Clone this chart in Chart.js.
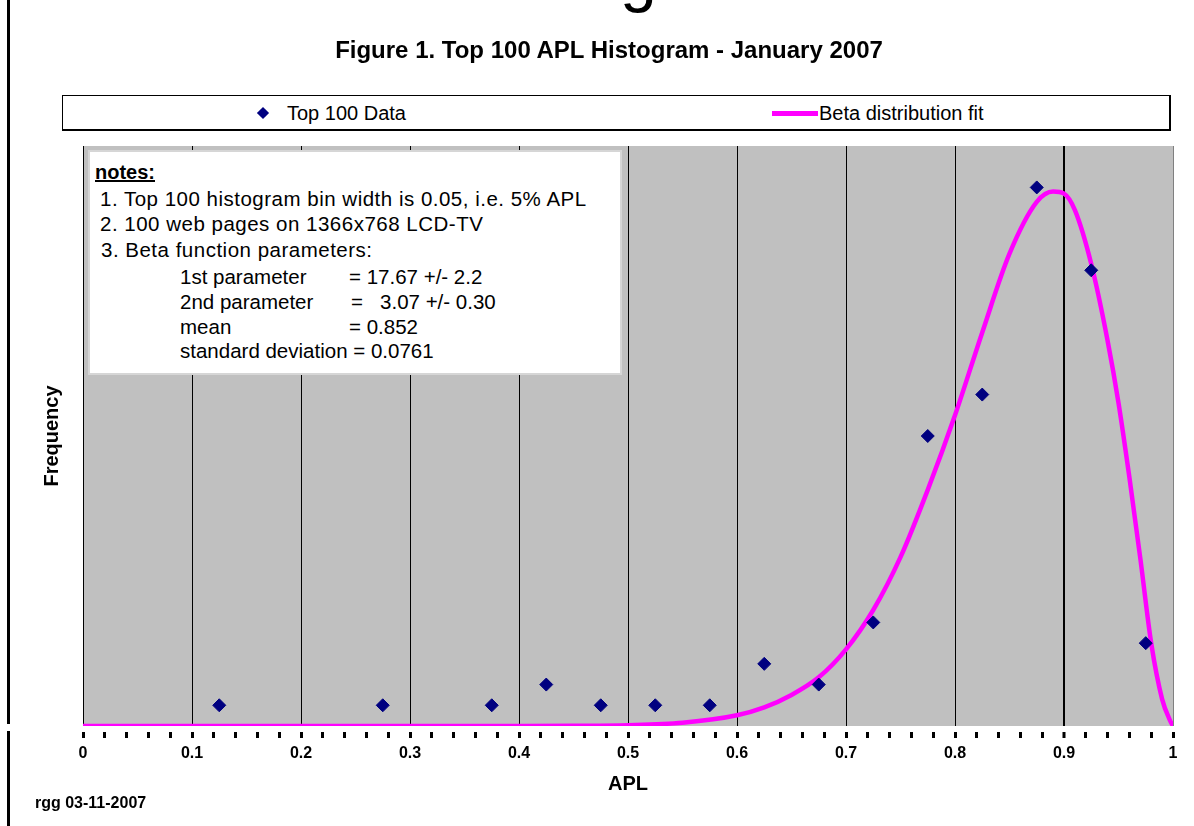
<!DOCTYPE html>
<html>
<head>
<meta charset="utf-8">
<title>Figure 1. Top 100 APL Histogram - January 2007</title>
<script src="https://cdn.jsdelivr.net/npm/chart.js@4.4.1/dist/chart.umd.min.js"></script>
<style>
  html, body { margin: 0; padding: 0; background: #fff; }
  body { width: 1194px; height: 826px; position: relative; overflow: hidden;
         font-family: "Liberation Sans", Arial, sans-serif; color: #000; }
  #chart { position: absolute; left: 0; top: 0; }
  .abs { position: absolute; white-space: pre; line-height: 24px; }
  .notes { font-size: 20.5px; }
  .wide { letter-spacing: 0.5px; }
</style>
</head>
<body>
<canvas id="chart" width="1194" height="826"></canvas>

<!-- bits of the page around the chart -->
<div class="abs" style="left:620px; top:-57px; font-size:66px; line-height:66px;">g</div>
<div style="position:absolute; left:7px; top:0; width:3px; height:724px; background:#000;"></div>
<div style="position:absolute; left:7px; top:731px; width:3px; height:95px; background:#000;"></div>

<div class="abs" style="left:300px; width:618px; top:38px; text-align:center; font-size:24px; font-weight:bold;">Figure 1. Top 100 APL Histogram - January 2007</div>

<!-- legend -->
<div style="position:absolute; left:62px; top:95px; width:1106px; height:33px; border:1px solid #000; border-right-width:2px; border-bottom-width:2px; background:#fff;"></div>
<div style="position:absolute; left:257px; top:107px; width:12px; height:12px; background:#000080; transform:rotate(45deg) scale(0.72, 0.72);"></div>
<div class="abs" style="left:287px; top:101px; font-size:20px;">Top 100 Data</div>
<div style="position:absolute; left:772px; top:111px; width:46px; height:5px; background:#ff00ff;"></div>
<div class="abs" style="left:819px; top:101px; font-size:20px;">Beta distribution fit</div>

<!-- notes box -->
<div style="position:absolute; left:88px; top:150px; width:530px; height:221px; background:#fff; border:2px solid #d6d6d6;"></div>
<div class="abs" style="left:95px; top:160px; font-size:20px; font-weight:bold; text-decoration:underline;">notes:</div>
<div class="abs notes wide" style="left:100px; top:187px;">1. Top 100 histogram bin width is 0.05, i.e. 5% APL</div>
<div class="abs notes wide" style="left:100px; top:212px;">2. 100 web pages on 1366x768 LCD-TV</div>
<div class="abs notes wide" style="left:101px; top:238px;">3. Beta function parameters:</div>
<div class="abs notes" style="left:180px; top:265px;">1st parameter</div>
<div class="abs notes" style="left:349px; top:265px;">= 17.67 +/- 2.2</div>
<div class="abs notes" style="left:180px; top:290px;">2nd parameter</div>
<div class="abs notes" style="left:351px; top:290px;">=   3.07 +/- 0.30</div>
<div class="abs notes" style="left:180px; top:315px;">mean</div>
<div class="abs notes" style="left:349px; top:315px;">= 0.852</div>
<div class="abs notes" style="left:180px; top:339px;">standard deviation = 0.0761</div>

<div class="abs" style="left:35px; top:791px; font-size:16px; font-weight:bold;">rgg 03-11-2007</div>

<script>
// histogram bins that have entries (centres) and their counts, 100 pages in all
const binCenters = [0.125, 0.275, 0.375, 0.425, 0.475, 0.525, 0.575, 0.625, 0.675, 0.725, 0.775, 0.825, 0.875, 0.925, 0.975];
const binCounts  = [1, 1, 1, 2, 1, 1, 1, 3, 2, 5, 14, 16, 26, 22, 4];

// beta distribution fit
const fitX = [0, 0.1, 0.2, 0.3, 0.4, 0.45, 0.5, 0.55, 0.6, 0.625, 0.65, 0.675, 0.7, 0.725, 0.75, 0.775, 0.8, 0.825, 0.85, 0.875, 0.89, 0.9, 0.91, 0.925, 0.94, 0.95, 0.96, 0.97, 0.98, 0.99, 0.997, 1];
const fitY = [0, 0, 0, 0, 0, 0.01, 0.04, 0.16, 0.52, 0.9, 1.5, 2.35, 3.7, 5.6, 8.15, 11.4, 15.0, 19.0, 22.8, 25.3, 25.8, 25.7, 24.9, 22.3, 18.6, 15.6, 12.0, 8.1, 4.0, 1.3, 0.3, 0];

const xTickLabels = ['0', '0.1', '0.2', '0.3', '0.4', '0.5', '0.6', '0.7', '0.8', '0.9', '1'];

const FONT = '"Liberation Sans", Arial, sans-serif';

// grey plot area like the spreadsheet chart
const plotBackground = {
  id: 'plotBackground',
  beforeDraw(chart) {
    const { ctx, chartArea } = chart;
    ctx.save();
    ctx.fillStyle = '#c0c0c0';
    ctx.fillRect(chartArea.left, chartArea.top, chartArea.right - chartArea.left, chartArea.bottom - chartArea.top);
    ctx.restore();
  }
};

const hundredths = v => Math.round(v * 100);

new Chart(document.getElementById('chart'), {
  type: 'scatter',
  data: {
    datasets: [
      {
        label: 'Top 100 Data',
        data: binCenters.map((x, i) => ({ x: x, y: binCounts[i] })),
        pointStyle: 'rectRot',
        pointRadius: 6.5,
        pointHoverRadius: 6.5,
        backgroundColor: '#000080',
        borderColor: '#000080',
        borderWidth: 1,
        order: 0
      },
      {
        label: 'Beta distribution fit',
        type: 'line',
        data: fitX.map((x, i) => ({ x: x, y: fitY[i] })),
        borderColor: '#ff00ff',
        borderWidth: 4.5,
        pointRadius: 0,
        fill: false,
        cubicInterpolationMode: 'monotone',
        order: 1
      }
    ]
  },
  options: {
    responsive: false,
    animation: false,
    devicePixelRatio: 1,
    events: [],
    layout: { padding: { left: 0, right: 21, top: 146, bottom: 29.8 } },
    plugins: {
      legend: { display: false },
      tooltip: { enabled: false }
    },
    scales: {
      x: {
        type: 'linear',
        min: 0,
        max: 1,
        border: { display: false },
        grid: {
          color: c => {
            const k = hundredths(c.tick.value);
            if (k % 10) return 'rgba(0,0,0,0)';
            return k === 100 ? '#808080' : '#000';
          },
          lineWidth: c => hundredths(c.tick.value) === 90 ? 2 : 1,
          drawTicks: true,
          tickLength: 12,
          tickWidth: 3,
          tickColor: '#000',
          tickBorderDash: [6, 6],
          tickBorderDashOffset: 6
        },
        ticks: {
          stepSize: 0.02,
          autoSkip: false,
          maxRotation: 0,
          minRotation: 0,
          padding: 6,
          color: '#000',
          font: { family: FONT, size: 16, weight: 'bold' },
          callback: v => {
            const k = hundredths(v);
            return k % 10 ? '' : xTickLabels[k / 10];
          }
        },
        title: {
          display: true,
          text: 'APL',
          color: '#000',
          font: { family: FONT, size: 20, weight: 'bold' },
          padding: { top: 3, bottom: 0 }
        }
      },
      y: {
        min: 0,
        max: 28,
        border: { display: false },
        grid: { display: false, drawTicks: false, tickLength: 0 },
        ticks: { display: false },
        title: {
          display: true,
          text: 'Frequency',
          color: '#000',
          font: { family: FONT, size: 20, weight: 'bold' },
          padding: { top: 40, bottom: 19 }
        }
      }
    }
  },
  plugins: [plotBackground]
});
</script>
</body>
</html>
